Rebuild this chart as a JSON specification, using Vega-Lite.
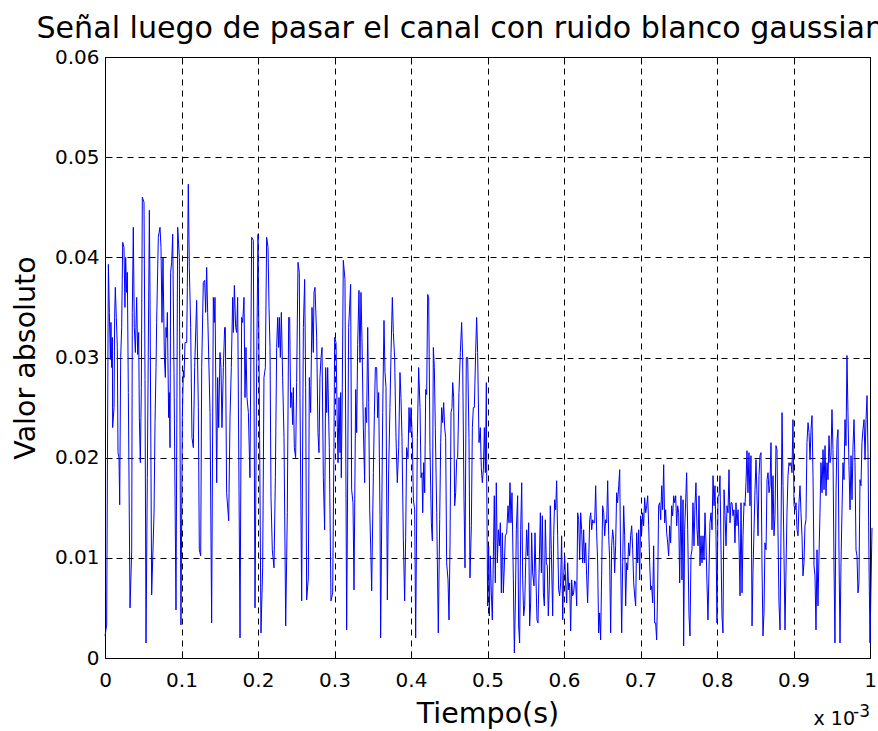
{
"$schema": "https://vega.github.io/schema/vega-lite/v6.json",
"width": 765,
"height": 601,
"autosize": {"type": "none"},
"padding": {"left": 105, "top": 57, "right": 8, "bottom": 73},
"background": "white",
"title": {"text": "Señal luego de pasar el canal con ruido blanco gaussiano", "font": "DejaVu Sans", "fontSize": 30.1, "fontWeight": "normal", "color": "black", "anchor": "middle", "baseline": "alphabetic", "offset": -21, "dx": -18},
"config": {"view": {"stroke": null}, "font": "DejaVu Sans"},
"data": {"values": [
{"t":0,"v":0.0022},{"t":0.0022,"v":0.0033},{"t":0.0044,"v":0.0393},{"t":0.0057,"v":0.0345},{"t":0.0070,"v":0.0298},{"t":0.0078,"v":0.0335},{"t":0.0087,"v":0.029},{"t":0.0096,"v":0.032},{"t":0.0100,"v":0.023},{"t":0.0118,"v":0.025},{"t":0.0126,"v":0.034},{"t":0.0135,"v":0.037},{"t":0.0148,"v":0.034},{"t":0.0161,"v":0.031},{"t":0.0170,"v":0.0205},{"t":0.0183,"v":0.020},{"t":0.0192,"v":0.0153},{"t":0.0205,"v":0.030},{"t":0.0218,"v":0.033},{"t":0.0231,"v":0.0415},{"t":0.0248,"v":0.041},{"t":0.0261,"v":0.035},{"t":0.0270,"v":0.040},{"t":0.0283,"v":0.0365},{"t":0.0292,"v":0.0385},{"t":0.0305,"v":0.0265},{"t":0.0327,"v":0.005},{"t":0.0349,"v":0.0107},{"t":0.0357,"v":0.0345},{"t":0.0370,"v":0.043},{"t":0.0383,"v":0.033},{"t":0.0397,"v":0.0305},{"t":0.0414,"v":0.036},{"t":0.0427,"v":0.0303},{"t":0.0440,"v":0.0325},{"t":0.0449,"v":0.024},{"t":0.0462,"v":0.0195},{"t":0.0475,"v":0.027},{"t":0.0488,"v":0.046},{"t":0.0510,"v":0.0455},{"t":0.0523,"v":0.0278},{"t":0.0536,"v":0.0015},{"t":0.0553,"v":0.018},{"t":0.0580,"v":0.0447},{"t":0.0588,"v":0.037},{"t":0.0610,"v":0.0063},{"t":0.0641,"v":0.0145},{"t":0.0654,"v":0.0235},{"t":0.0667,"v":0.029},{"t":0.0675,"v":0.0335},{"t":0.0697,"v":0.042},{"t":0.0719,"v":0.043},{"t":0.0732,"v":0.041},{"t":0.0745,"v":0.0335},{"t":0.0758,"v":0.040},{"t":0.0776,"v":0.030},{"t":0.0789,"v":0.028},{"t":0.0797,"v":0.033},{"t":0.0806,"v":0.032},{"t":0.0815,"v":0.0345},{"t":0.0832,"v":0.024},{"t":0.0841,"v":0.0265},{"t":0.0850,"v":0.021},{"t":0.0858,"v":0.0385},{"t":0.0871,"v":0.0395},{"t":0.0885,"v":0.0423},{"t":0.0902,"v":0.0285},{"t":0.0928,"v":0.0048},{"t":0.0950,"v":0.043},{"t":0.0972,"v":0.040},{"t":0.0985,"v":0.0145},{"t":0.0993,"v":0.0033},{"t":0.1011,"v":0.024},{"t":0.1024,"v":0.0287},{"t":0.1033,"v":0.028},{"t":0.1046,"v":0.0315},{"t":0.1068,"v":0.0315},{"t":0.1076,"v":0.037},{"t":0.1089,"v":0.0473},{"t":0.1102,"v":0.039},{"t":0.1120,"v":0.033},{"t":0.1137,"v":0.022},{"t":0.1155,"v":0.021},{"t":0.1172,"v":0.029},{"t":0.1198,"v":0.0357},{"t":0.1220,"v":0.025},{"t":0.1233,"v":0.0108},{"t":0.1251,"v":0.0102},{"t":0.1264,"v":0.029},{"t":0.1285,"v":0.0375},{"t":0.1303,"v":0.0377},{"t":0.1316,"v":0.0345},{"t":0.1329,"v":0.039},{"t":0.1342,"v":0.0345},{"t":0.1373,"v":0.0245},{"t":0.1394,"v":0.0035},{"t":0.1416,"v":0.036},{"t":0.1429,"v":0.0335},{"t":0.1438,"v":0.036},{"t":0.1460,"v":0.0175},{"t":0.1473,"v":0.028},{"t":0.1486,"v":0.023},{"t":0.1503,"v":0.0305},{"t":0.1516,"v":0.029},{"t":0.1529,"v":0.023},{"t":0.1547,"v":0.029},{"t":0.1564,"v":0.033},{"t":0.1573,"v":0.033},{"t":0.1590,"v":0.0165},{"t":0.1617,"v":0.0137},{"t":0.1634,"v":0.024},{"t":0.1651,"v":0.029},{"t":0.1669,"v":0.036},{"t":0.1678,"v":0.0325},{"t":0.1691,"v":0.0372},{"t":0.1708,"v":0.033},{"t":0.1721,"v":0.0325},{"t":0.1734,"v":0.036},{"t":0.1752,"v":0.0168},{"t":0.1765,"v":0.002},{"t":0.1786,"v":0.034},{"t":0.1800,"v":0.0335},{"t":0.1817,"v":0.036},{"t":0.1830,"v":0.026},{"t":0.1843,"v":0.031},{"t":0.1856,"v":0.026},{"t":0.1874,"v":0.0245},{"t":0.1895,"v":0.018},{"t":0.1917,"v":0.042},{"t":0.1939,"v":0.0417},{"t":0.1961,"v":0.005},{"t":0.1983,"v":0.0295},{"t":0.2000,"v":0.0423},{"t":0.2017,"v":0.0265},{"t":0.2039,"v":0.0025},{"t":0.2061,"v":0.009},{"t":0.2078,"v":0.028},{"t":0.2096,"v":0.029},{"t":0.2113,"v":0.042},{"t":0.2131,"v":0.041},{"t":0.2144,"v":0.035},{"t":0.2157,"v":0.031},{"t":0.2170,"v":0.016},{"t":0.2187,"v":0.0108},{"t":0.2209,"v":0.009},{"t":0.2227,"v":0.018},{"t":0.2244,"v":0.031},{"t":0.2257,"v":0.034},{"t":0.2270,"v":0.031},{"t":0.2279,"v":0.034},{"t":0.2292,"v":0.030},{"t":0.2305,"v":0.0345},{"t":0.2322,"v":0.028},{"t":0.2340,"v":0.022},{"t":0.2362,"v":0.0032},{"t":0.2383,"v":0.0145},{"t":0.2401,"v":0.034},{"t":0.2414,"v":0.034},{"t":0.2427,"v":0.025},{"t":0.2440,"v":0.0265},{"t":0.2453,"v":0.0233},{"t":0.2462,"v":0.027},{"t":0.2475,"v":0.021},{"t":0.2492,"v":0.020},{"t":0.2505,"v":0.0275},{"t":0.2523,"v":0.0395},{"t":0.2540,"v":0.0385},
{"t":0.2549,"v":0.026},{"t":0.2571,"v":0.0057},{"t":0.2593,"v":0.033},{"t":0.2610,"v":0.0378},{"t":0.2623,"v":0.027},{"t":0.2636,"v":0.0058},{"t":0.2658,"v":0.008},{"t":0.2671,"v":0.028},{"t":0.2688,"v":0.0245},{"t":0.2706,"v":0.035},{"t":0.2723,"v":0.0305},{"t":0.2732,"v":0.0365},{"t":0.2745,"v":0.037},{"t":0.2767,"v":0.032},{"t":0.2784,"v":0.0225},{"t":0.2797,"v":0.0205},{"t":0.2810,"v":0.028},{"t":0.2824,"v":0.030},{"t":0.2837,"v":0.031},{"t":0.2854,"v":0.018},{"t":0.2871,"v":0.0128},{"t":0.2885,"v":0.029},{"t":0.2898,"v":0.0245},{"t":0.2911,"v":0.029},{"t":0.2932,"v":0.021},{"t":0.2954,"v":0.0057},{"t":0.2976,"v":0.0065},{"t":0.2993,"v":0.021},{"t":0.3002,"v":0.032},{"t":0.3020,"v":0.0315},{"t":0.3037,"v":0.023},{"t":0.3046,"v":0.0195},{"t":0.3059,"v":0.026},{"t":0.3072,"v":0.0205},{"t":0.3081,"v":0.0265},{"t":0.3089,"v":0.018},{"t":0.3102,"v":0.027},{"t":0.3115,"v":0.0397},{"t":0.3137,"v":0.0378},{"t":0.3159,"v":0.0028},{"t":0.3185,"v":0.033},{"t":0.3211,"v":0.0373},{"t":0.3224,"v":0.0168},{"t":0.3242,"v":0.0155},{"t":0.3255,"v":0.0068},{"t":0.3277,"v":0.0268},{"t":0.3290,"v":0.0225},{"t":0.3303,"v":0.0313},{"t":0.3320,"v":0.0367},{"t":0.3333,"v":0.0295},{"t":0.3346,"v":0.0365},{"t":0.3359,"v":0.032},{"t":0.3377,"v":0.023},{"t":0.3394,"v":0.0175},{"t":0.3403,"v":0.025},{"t":0.3420,"v":0.0235},{"t":0.3434,"v":0.033},{"t":0.3447,"v":0.0255},{"t":0.3460,"v":0.0148},{"t":0.3473,"v":0.0112},{"t":0.3486,"v":0.0067},{"t":0.3508,"v":0.0185},{"t":0.3521,"v":0.0242},{"t":0.3534,"v":0.029},{"t":0.3551,"v":0.029},{"t":0.3564,"v":0.024},{"t":0.3577,"v":0.0265},{"t":0.3595,"v":0.0142},{"t":0.3603,"v":0.002},{"t":0.3630,"v":0.0245},{"t":0.3647,"v":0.0337},{"t":0.3660,"v":0.0285},{"t":0.3673,"v":0.027},{"t":0.3691,"v":0.0058},{"t":0.3708,"v":0.0188},{"t":0.3725,"v":0.025},{"t":0.3739,"v":0.0305},{"t":0.3756,"v":0.036},{"t":0.3769,"v":0.0325},{"t":0.3786,"v":0.030},{"t":0.3804,"v":0.022},{"t":0.3821,"v":0.0175},{"t":0.3839,"v":0.021},{"t":0.3856,"v":0.0285},{"t":0.3869,"v":0.026},{"t":0.3882,"v":0.022},{"t":0.3900,"v":0.0118},{"t":0.3917,"v":0.0057},{"t":0.3930,"v":0.012},{"t":0.3943,"v":0.021},{"t":0.3961,"v":0.020},{"t":0.3974,"v":0.025},{"t":0.3987,"v":0.0225},{"t":0.4000,"v":0.025},{"t":0.4017,"v":0.022},{"t":0.4031,"v":0.0158},{"t":0.4048,"v":0.0148},{"t":0.4061,"v":0.002},{"t":0.4083,"v":0.022},{"t":0.4100,"v":0.029},{"t":0.4118,"v":0.025},{"t":0.4131,"v":0.018},{"t":0.4144,"v":0.0185},{"t":0.4153,"v":0.0145},{"t":0.4166,"v":0.0195},{"t":0.4179,"v":0.0165},{"t":0.4192,"v":0.0268},{"t":0.4205,"v":0.0263},{"t":0.4218,"v":0.0363},{"t":0.4231,"v":0.036},{"t":0.4248,"v":0.021},{"t":0.4266,"v":0.0135},{"t":0.4279,"v":0.0117},{"t":0.4292,"v":0.031},{"t":0.4305,"v":0.029},{"t":0.4318,"v":0.023},{"t":0.4336,"v":0.0145},{"t":0.4357,"v":0.0025},{"t":0.4375,"v":0.0138},{"t":0.4388,"v":0.0215},{"t":0.4401,"v":0.025},{"t":0.4414,"v":0.0235},{"t":0.4427,"v":0.0255},{"t":0.4440,"v":0.023},{"t":0.4453,"v":0.022},{"t":0.4466,"v":0.0095},{"t":0.4484,"v":0.0078},{"t":0.4497,"v":0.0038},{"t":0.4510,"v":0.0112},{"t":0.4523,"v":0.0245},{"t":0.4536,"v":0.025},{"t":0.4545,"v":0.0275},{"t":0.4558,"v":0.026},{"t":0.4571,"v":0.0152},{"t":0.4584,"v":0.0165},{"t":0.4597,"v":0.0198},{"t":0.4610,"v":0.020},{"t":0.4627,"v":0.0265},{"t":0.4645,"v":0.0305},{"t":0.4662,"v":0.0335},{"t":0.4675,"v":0.030},{"t":0.4693,"v":0.0158},{"t":0.4706,"v":0.009},{"t":0.4723,"v":0.030},{"t":0.4741,"v":0.030},{"t":0.4758,"v":0.022},{"t":0.4771,"v":0.008},{"t":0.4789,"v":0.0132},{"t":0.4802,"v":0.023},{"t":0.4815,"v":0.025},{"t":0.4828,"v":0.025},{"t":0.4845,"v":0.0305},{"t":0.4858,"v":0.034},{"t":0.4871,"v":0.0305},{"t":0.4889,"v":0.0215},{"t":0.4906,"v":0.023},{"t":0.4919,"v":0.019},{"t":0.4932,"v":0.0175},{"t":0.4946,"v":0.0188},{"t":0.4959,"v":0.023},{"t":0.4972,"v":0.0185},{"t":0.4985,"v":0.0275},
{"t":0.4989,"v":0.0185},{"t":0.5002,"v":0.0052},{"t":0.5015,"v":0.0112},{"t":0.5024,"v":0.0042},{"t":0.5037,"v":0.0102},{"t":0.5050,"v":0.0065},{"t":0.5063,"v":0.0038},{"t":0.5076,"v":0.0098},{"t":0.5089,"v":0.0162},{"t":0.5102,"v":0.0075},{"t":0.5115,"v":0.0175},{"t":0.5129,"v":0.0095},{"t":0.5142,"v":0.0128},{"t":0.5155,"v":0.0112},{"t":0.5168,"v":0.0135},{"t":0.5181,"v":0.0065},{"t":0.5194,"v":0.0125},{"t":0.5207,"v":0.0065},{"t":0.5220,"v":0.0092},{"t":0.5233,"v":0.0122},{"t":0.5251,"v":0.0125},{"t":0.5268,"v":0.0152},{"t":0.5281,"v":0.0135},{"t":0.5294,"v":0.0175},{"t":0.5307,"v":0.0135},{"t":0.5320,"v":0.0165},{"t":0.5338,"v":0.0078},{"t":0.5351,"v":0.0005},{"t":0.5364,"v":0.0055},{"t":0.5377,"v":0.0128},{"t":0.5394,"v":0.0162},{"t":0.5407,"v":0.0032},{"t":0.5420,"v":0.0015},{"t":0.5434,"v":0.0128},{"t":0.5447,"v":0.0175},{"t":0.5460,"v":0.0078},{"t":0.5473,"v":0.0042},{"t":0.5486,"v":0.0052},{"t":0.5499,"v":0.0095},{"t":0.5512,"v":0.0128},{"t":0.5525,"v":0.0102},{"t":0.5538,"v":0.0135},{"t":0.5551,"v":0.0032},{"t":0.5564,"v":0.0055},{"t":0.5577,"v":0.0125},{"t":0.5590,"v":0.0085},{"t":0.5608,"v":0.0072},{"t":0.5621,"v":0.0125},{"t":0.5634,"v":0.0078},{"t":0.5647,"v":0.0038},{"t":0.5660,"v":0.0035},{"t":0.5673,"v":0.0082},{"t":0.5691,"v":0.0145},{"t":0.5704,"v":0.0085},{"t":0.5717,"v":0.0142},{"t":0.5730,"v":0.0065},{"t":0.5743,"v":0.0052},{"t":0.5756,"v":0.0138},{"t":0.5769,"v":0.0095},{"t":0.5782,"v":0.0092},{"t":0.5795,"v":0.0042},{"t":0.5808,"v":0.0072},{"t":0.5821,"v":0.0152},{"t":0.5834,"v":0.0108},{"t":0.5852,"v":0.0042},{"t":0.5865,"v":0.0122},{"t":0.5878,"v":0.0158},{"t":0.5891,"v":0.0148},{"t":0.5904,"v":0.0177},{"t":0.5917,"v":0.0122},{"t":0.5930,"v":0.0068},{"t":0.5943,"v":0.0062},{"t":0.5956,"v":0.0075},{"t":0.5969,"v":0.0122},{"t":0.5983,"v":0.0038},{"t":0.5996,"v":0.0082},{"t":0.6009,"v":0.0102},{"t":0.6022,"v":0.0075},{"t":0.6035,"v":0.0055},{"t":0.6048,"v":0.0095},{"t":0.6061,"v":0.0068},{"t":0.6074,"v":0.0075},{"t":0.6087,"v":0.0027},{"t":0.6100,"v":0.0078},{"t":0.6113,"v":0.0062},{"t":0.6126,"v":0.0065},{"t":0.6139,"v":0.0077},{"t":0.6153,"v":0.0075},{"t":0.6166,"v":0.0052},{"t":0.6179,"v":0.0145},{"t":0.6192,"v":0.0138},{"t":0.6205,"v":0.0098},{"t":0.6218,"v":0.0145},{"t":0.6231,"v":0.0128},{"t":0.6244,"v":0.0095},{"t":0.6257,"v":0.0128},{"t":0.6270,"v":0.0095},{"t":0.6283,"v":0.0115},{"t":0.6296,"v":0.0082},{"t":0.6309,"v":0.0055},{"t":0.6322,"v":0.0095},{"t":0.6336,"v":0.0138},{"t":0.6349,"v":0.0145},{"t":0.6362,"v":0.0128},{"t":0.6375,"v":0.0138},{"t":0.6388,"v":0.0135},{"t":0.6401,"v":0.0135},{"t":0.6414,"v":0.0172},{"t":0.6427,"v":0.0125},{"t":0.6440,"v":0.0095},{"t":0.6453,"v":0.0025},{"t":0.6466,"v":0.0045},{"t":0.6479,"v":0.0018},{"t":0.6492,"v":0.0082},{"t":0.6505,"v":0.0152},{"t":0.6519,"v":0.0145},{"t":0.6532,"v":0.0122},{"t":0.6545,"v":0.0138},{"t":0.6558,"v":0.0135},{"t":0.6571,"v":0.0177},{"t":0.6584,"v":0.0122},{"t":0.6597,"v":0.0098},{"t":0.6610,"v":0.0025},{"t":0.6623,"v":0.0112},{"t":0.6636,"v":0.0128},{"t":0.6649,"v":0.0118},{"t":0.6662,"v":0.0085},{"t":0.6675,"v":0.0112},{"t":0.6688,"v":0.0165},{"t":0.6701,"v":0.0155},{"t":0.6715,"v":0.0172},{"t":0.6728,"v":0.0188},{"t":0.6741,"v":0.0095},{"t":0.6754,"v":0.0025},{"t":0.6767,"v":0.0095},{"t":0.6780,"v":0.0152},{"t":0.6793,"v":0.0122},{"t":0.6806,"v":0.0052},{"t":0.6819,"v":0.0095},{"t":0.6832,"v":0.0088},{"t":0.6845,"v":0.0115},{"t":0.6858,"v":0.0102},{"t":0.6871,"v":0.0122},{"t":0.6885,"v":0.0132},{"t":0.6898,"v":0.0108},{"t":0.6911,"v":0.0075},{"t":0.6924,"v":0.0062},{"t":0.6937,"v":0.0052},{"t":0.6950,"v":0.0125},{"t":0.6963,"v":0.0095},{"t":0.6976,"v":0.0128},{"t":0.6989,"v":0.0078},{"t":0.7002,"v":0.0142},{"t":0.7015,"v":0.0125},{"t":0.7028,"v":0.0145},{"t":0.7041,"v":0.0132},{"t":0.7054,"v":0.016},{"t":0.7068,"v":0.0145},{"t":0.7081,"v":0.0152},{"t":0.7094,"v":0.0162},{"t":0.7107,"v":0.0132},{"t":0.7120,"v":0.0095},{"t":0.7133,"v":0.0068},{"t":0.7146,"v":0.0072},{"t":0.7159,"v":0.0055},{"t":0.7172,"v":0.0112},{"t":0.7185,"v":0.0035},{"t":0.7198,"v":0.0035},{"t":0.7211,"v":0.0018},{"t":0.7224,"v":0.0068},{"t":0.7237,"v":0.0152},{"t":0.7251,"v":0.0155},{"t":0.7264,"v":0.0138},{"t":0.7277,"v":0.0172},{"t":0.7290,"v":0.0148},{"t":0.7303,"v":0.0193},{"t":0.7316,"v":0.0135},{"t":0.7329,"v":0.0148},{"t":0.7342,"v":0.0125},{"t":0.7355,"v":0.0115},{"t":0.7368,"v":0.0102},{"t":0.7381,"v":0.0132},{"t":0.7394,"v":0.0115},{"t":0.7407,"v":0.0152},{"t":0.7420,"v":0.0142},{"t":0.7434,"v":0.0162},{"t":0.7447,"v":0.0155},{"t":0.7460,"v":0.0162},{"t":0.7473,"v":0.0132},{"t":0.7486,"v":0.0152},{"t":0.7499,"v":0.0145},{"t":0.7512,"v":0.0075},
{"t":0.7529,"v":0.0162},{"t":0.7542,"v":0.0078},{"t":0.7556,"v":0.0158},{"t":0.7564,"v":0.0012},{"t":0.7577,"v":0.0128},{"t":0.7590,"v":0.0155},{"t":0.7603,"v":0.0185},{"t":0.7617,"v":0.0128},{"t":0.7634,"v":0.0042},{"t":0.7647,"v":0.0022},{"t":0.7660,"v":0.0102},{"t":0.7673,"v":0.0108},{"t":0.7686,"v":0.0155},{"t":0.7699,"v":0.0112},{"t":0.7712,"v":0.0152},{"t":0.7725,"v":0.0175},{"t":0.7739,"v":0.0128},{"t":0.7752,"v":0.0112},{"t":0.7765,"v":0.0162},{"t":0.7778,"v":0.0092},{"t":0.7791,"v":0.0122},{"t":0.7804,"v":0.0095},{"t":0.7817,"v":0.0122},{"t":0.7830,"v":0.0098},{"t":0.7843,"v":0.0145},{"t":0.7856,"v":0.0115},{"t":0.7869,"v":0.0075},{"t":0.7882,"v":0.0038},{"t":0.7895,"v":0.0085},{"t":0.7908,"v":0.0135},{"t":0.7922,"v":0.0145},{"t":0.7935,"v":0.0128},{"t":0.7948,"v":0.0182},{"t":0.7961,"v":0.0152},{"t":0.7974,"v":0.0172},{"t":0.7987,"v":0.0122},{"t":0.8000,"v":0.0035},{"t":0.8013,"v":0.0162},{"t":0.8026,"v":0.0162},{"t":0.8039,"v":0.0182},{"t":0.8052,"v":0.0112},{"t":0.8065,"v":0.0042},{"t":0.8078,"v":0.0025},{"t":0.8092,"v":0.0168},{"t":0.8105,"v":0.0142},{"t":0.8118,"v":0.0112},{"t":0.8131,"v":0.0152},{"t":0.8144,"v":0.0145},{"t":0.8157,"v":0.0188},{"t":0.8170,"v":0.0135},{"t":0.8183,"v":0.0155},{"t":0.8196,"v":0.0155},{"t":0.8209,"v":0.0142},{"t":0.8222,"v":0.0148},{"t":0.8235,"v":0.0115},{"t":0.8248,"v":0.0155},{"t":0.8261,"v":0.0132},{"t":0.8275,"v":0.0148},{"t":0.8288,"v":0.0115},{"t":0.8301,"v":0.0062},{"t":0.8314,"v":0.0155},{"t":0.8327,"v":0.0065},{"t":0.8340,"v":0.0122},{"t":0.8353,"v":0.0155},{"t":0.8366,"v":0.0152},{"t":0.8379,"v":0.0175},{"t":0.8392,"v":0.0207},{"t":0.8405,"v":0.0165},{"t":0.8418,"v":0.0205},{"t":0.8431,"v":0.0152},{"t":0.8444,"v":0.0202},{"t":0.8458,"v":0.0032},{"t":0.8471,"v":0.0088},{"t":0.8484,"v":0.0128},{"t":0.8497,"v":0.0168},{"t":0.8510,"v":0.0198},{"t":0.8523,"v":0.0162},{"t":0.8536,"v":0.0122},{"t":0.8549,"v":0.0182},{"t":0.8562,"v":0.0202},{"t":0.8575,"v":0.0205},{"t":0.8588,"v":0.0095},{"t":0.8601,"v":0.0022},{"t":0.8614,"v":0.0045},{"t":0.8627,"v":0.0115},{"t":0.8641,"v":0.0108},{"t":0.8654,"v":0.0178},{"t":0.8667,"v":0.0185},{"t":0.8680,"v":0.0165},{"t":0.8693,"v":0.0172},{"t":0.8706,"v":0.0215},{"t":0.8719,"v":0.0128},{"t":0.8732,"v":0.0182},{"t":0.8745,"v":0.0122},{"t":0.8758,"v":0.0142},{"t":0.8771,"v":0.0212},{"t":0.8784,"v":0.0208},{"t":0.8797,"v":0.0128},{"t":0.8810,"v":0.0055},{"t":0.8824,"v":0.0028},{"t":0.8837,"v":0.0128},{"t":0.8850,"v":0.0245},{"t":0.8863,"v":0.0172},{"t":0.8876,"v":0.0102},{"t":0.8889,"v":0.0028},{"t":0.8902,"v":0.0088},{"t":0.8915,"v":0.0145},{"t":0.8928,"v":0.0182},{"t":0.8941,"v":0.0195},{"t":0.8954,"v":0.0192},{"t":0.8967,"v":0.0195},{"t":0.8980,"v":0.0185},{"t":0.8993,"v":0.0238},{"t":0.9007,"v":0.0152},{"t":0.9020,"v":0.0148},{"t":0.9033,"v":0.0155},{"t":0.9046,"v":0.0128},{"t":0.9059,"v":0.0122},{"t":0.9072,"v":0.0155},{"t":0.9085,"v":0.0172},{"t":0.9098,"v":0.0145},{"t":0.9111,"v":0.0122},{"t":0.9124,"v":0.0082},{"t":0.9137,"v":0.0095},{"t":0.9150,"v":0.0132},{"t":0.9163,"v":0.0138},{"t":0.9176,"v":0.0215},{"t":0.9190,"v":0.0235},{"t":0.9203,"v":0.0225},{"t":0.9216,"v":0.0198},{"t":0.9229,"v":0.0228},{"t":0.9242,"v":0.0242},{"t":0.9255,"v":0.0182},{"t":0.9268,"v":0.0092},{"t":0.9281,"v":0.0082},{"t":0.9294,"v":0.0028},{"t":0.9307,"v":0.0108},{"t":0.9320,"v":0.0052},{"t":0.9333,"v":0.0102},{"t":0.9346,"v":0.0145},{"t":0.9359,"v":0.0195},{"t":0.9373,"v":0.0165},{"t":0.9386,"v":0.0208},{"t":0.9399,"v":0.0168},{"t":0.9412,"v":0.0212},{"t":0.9425,"v":0.0162},{"t":0.9438,"v":0.0195},{"t":0.9451,"v":0.0178},{"t":0.9464,"v":0.0222},{"t":0.9477,"v":0.0195},{"t":0.9490,"v":0.0202},{"t":0.9503,"v":0.0248},{"t":0.9516,"v":0.0208},{"t":0.9529,"v":0.0095},{"t":0.9542,"v":0.0015},{"t":0.9556,"v":0.0168},{"t":0.9569,"v":0.0218},{"t":0.9582,"v":0.0228},{"t":0.9595,"v":0.0102},{"t":0.9608,"v":0.0015},{"t":0.9621,"v":0.0095},{"t":0.9634,"v":0.0148},{"t":0.9647,"v":0.0195},{"t":0.9660,"v":0.0178},{"t":0.9673,"v":0.0238},{"t":0.9686,"v":0.0212},{"t":0.9699,"v":0.0302},{"t":0.9712,"v":0.0245},{"t":0.9725,"v":0.0192},{"t":0.9739,"v":0.0148},{"t":0.9752,"v":0.0202},{"t":0.9765,"v":0.0158},{"t":0.9778,"v":0.0212},{"t":0.9791,"v":0.0238},{"t":0.9804,"v":0.0195},{"t":0.9817,"v":0.0108},{"t":0.9830,"v":0.0102},{"t":0.9843,"v":0.0065},{"t":0.9856,"v":0.0075},{"t":0.9869,"v":0.0178},{"t":0.9882,"v":0.0172},{"t":0.9895,"v":0.0215},{"t":0.9908,"v":0.0228},{"t":0.9922,"v":0.0238},{"t":0.9935,"v":0.0198},{"t":0.9948,"v":0.0238},{"t":0.9961,"v":0.0262},{"t":0.9974,"v":0.0205},{"t":0.9987,"v":0.0095},{"t":1.0,"v":0.0015},{"t":1.0026,"v":0.013}
]},
"layer": [
{
"mark": {"type": "line", "color": "#0000ff", "strokeWidth": 1, "clip": false},
"encoding": {
"x": {"field": "t", "type": "quantitative", "scale": {"domain": [0, 1], "nice": false, "zero": false},
 "axis": {"orient": "bottom", "values": [0,0.1,0.2,0.3,0.4,0.5,0.6,0.7,0.8,0.9,1], "format": "~g",
  "grid": true, "gridColor": "black", "gridDash": [6,5], "gridWidth": 1, "gridOpacity": 1,
  "domain": true, "domainColor": "black", "domainWidth": 1,
  "ticks": true, "tickSize": -7, "tickColor": "black", "tickWidth": 1,
  "labelFont": "DejaVu Sans", "labelFontSize": 20, "labelColor": "black", "labelPadding": 19, "labelFlush": false, "labelOverlap": false,
  "title": "Tiempo(s)", "titleFont": "DejaVu Sans", "titleFontSize": 28.5, "titleFontWeight": "normal", "titleColor": "black", "titlePadding": 9}},
"y": {"field": "v", "type": "quantitative", "scale": {"domain": [0, 0.06], "nice": false},
 "axis": {"orient": "left", "values": [0,0.01,0.02,0.03,0.04,0.05,0.06], "labelExpr": "datum.value == 0 ? '0' : format(datum.value, '.2f')",
  "grid": true, "gridColor": "black", "gridDash": [6,5], "gridWidth": 1, "gridOpacity": 1,
  "domain": true, "domainColor": "black", "domainWidth": 1,
  "ticks": true, "tickSize": -7, "tickColor": "black", "tickWidth": 1,
  "labelFont": "DejaVu Sans", "labelFontSize": 20, "labelColor": "black", "labelPadding": 13, "labelFlush": false, "labelOverlap": false,
  "title": "Valor absoluto", "titleFont": "DejaVu Sans", "titleFontSize": 28.5, "titleFontWeight": "normal", "titleColor": "black", "titlePadding": 14}}
}
},
{
"mark": {"type": "line", "strokeOpacity": 0},
"encoding": {
"x": {"field": "t", "type": "quantitative", "axis": {"orient": "top", "values": [0,0.1,0.2,0.3,0.4,0.5,0.6,0.7,0.8,0.9,1], "labels": false, "grid": false, "domain": true, "domainColor": "black", "ticks": true, "tickSize": -7, "tickColor": "black", "title": null}},
"y": {"field": "v", "type": "quantitative", "axis": {"orient": "right", "values": [0,0.01,0.02,0.03,0.04,0.05,0.06], "labels": false, "grid": false, "domain": true, "domainColor": "black", "ticks": true, "tickSize": -7, "tickColor": "black", "title": null}}
}
},
{
"data": {"values": [{"label": "x 10"}]},
"mark": {"type": "text", "font": "DejaVu Sans", "fontSize": 19, "color": "black", "align": "right", "baseline": "alphabetic", "dx": -15, "dy": 67},
"encoding": {"text": {"field": "label"}, "x": {"datum": 1, "type": "quantitative", "axis": null}, "y": {"datum": 0, "type": "quantitative", "axis": null}}
},
{
"data": {"values": [{"label": "-3"}]},
"mark": {"type": "text", "font": "DejaVu Sans", "fontSize": 17, "color": "black", "align": "right", "baseline": "alphabetic", "dx": 0, "dy": 59},
"encoding": {"text": {"field": "label"}, "x": {"datum": 1, "type": "quantitative", "axis": null}, "y": {"datum": 0, "type": "quantitative", "axis": null}}
}
],
"resolve": {"axis": {"x": "independent", "y": "independent"}}
}
